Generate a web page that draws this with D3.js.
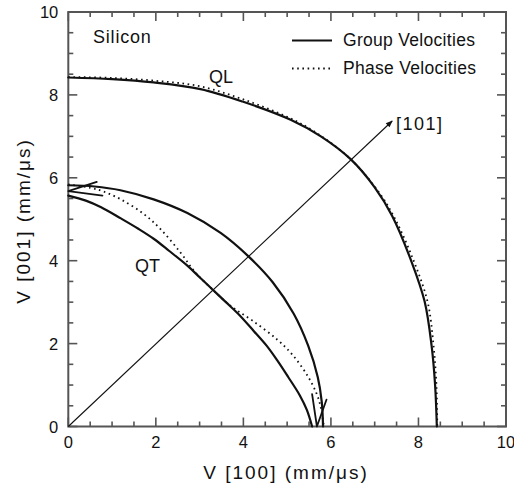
<!DOCTYPE html>
<html>
<head>
<meta charset="utf-8">
<script src="https://cdn.jsdelivr.net/npm/d3@7"></script>
<style>
  html, body { margin: 0; padding: 0; background: #fff; }
  svg { display: block; }
</style>
</head>
<body>
<svg id="chart" width="514" height="484"></svg>
<script>
// ---------------- data ----------------
// QL group velocity (solid)
const qlGroup = [
  [0, 8.42], [1.0, 8.38], [1.95, 8.30], [3.02, 8.14], [3.98, 7.84], [5.08, 7.40],
  [5.77, 7.00], [6.45, 6.45], [7.00, 5.77], [7.40, 5.08], [7.84, 3.98], [8.14, 3.02],
  [8.30, 1.95], [8.38, 1.0], [8.42, 0]
];
// QL phase velocity (dotted)
const qlPhase = [
  [0, 8.43], [1.0, 8.41], [2.0, 8.34], [3.0, 8.21], [4.0, 7.89], [5.0, 7.47],
  [5.6, 7.13], [6.45, 6.45], [7.13, 5.6], [7.47, 5.0], [7.89, 4.0], [8.21, 3.0],
  [8.34, 2.0], [8.41, 1.0], [8.43, 0]
];
// pure transverse mode (solid, outer QT)
const qtOuter = [
  [0, 5.82], [0.6, 5.79], [1.19, 5.70], [1.95, 5.48], [2.72, 5.15], [3.48, 4.67],
  [4.11, 4.11], [4.67, 3.48], [5.15, 2.72], [5.48, 1.95], [5.70, 1.19], [5.79, 0.6], [5.82, 0]
];
// quasi-transverse group velocity (solid, inner QT)
const qtInner = [
  [0, 5.57], [0.4, 5.45], [0.75, 5.29], [1.2, 5.02], [1.6, 4.77], [1.95, 4.53],
  [2.3, 4.24], [2.72, 3.88], [3.0, 3.60], [3.30, 3.30], [3.60, 3.0], [3.88, 2.72],
  [4.24, 2.3], [4.53, 1.95], [4.77, 1.6], [5.02, 1.2], [5.29, 0.75], [5.45, 0.4], [5.57, 0]
];
// quasi-transverse phase velocity (dotted)
const qtPhase = [
  [0, 5.84], [0.5, 5.76], [0.8, 5.67], [1.2, 5.48], [1.72, 5.13], [2.10, 4.77],
  [2.56, 4.20], [2.9, 3.72], [3.30, 3.30], [3.72, 2.9], [4.20, 2.56], [4.77, 2.10],
  [5.13, 1.72], [5.48, 1.2], [5.67, 0.8], [5.76, 0.5], [5.84, 0]
];
// cusps of the QT group velocity
const cuspNear001 = [[0.65, 5.90], [0, 5.68], [0.78, 5.57]];
const cuspNear100 = [[5.90, 0.65], [5.68, 0], [5.57, 0.78]];
// [101] direction
const dir101 = [[0, 0], [7.4, 7.37]];

const xMajorTicks = [0, 2, 4, 6, 8, 10];
const yMajorTicks = [0, 2, 4, 6, 8, 10];
const minorTicks = [0.5, 1, 1.5, 2.5, 3, 3.5, 4.5, 5, 5.5, 6.5, 7, 7.5, 8.5, 9, 9.5];

// ---------------- drawing ----------------
const svg = d3.select("#chart");
const x = d3.scaleLinear().domain([0, 10]).range([68.3, 506]);
const y = d3.scaleLinear().domain([0, 10]).range([426.5, 12]);
const line = d3.line().x(d => x(d[0])).y(d => y(d[1])).curve(d3.curveCatmullRom.alpha(0.5));
const straight = d3.line().x(d => x(d[0])).y(d => y(d[1]));
const FONT = "Liberation Sans, Arial, sans-serif";
const INK = "#111";
const FRAME_INK = "#555";

// frame
const frame = [[0, 0], [10, 0], [10, 10], [0, 10], [0, 0]];
svg.append("path").attr("d", straight(frame) + "Z")
  .attr("fill", "none").attr("stroke", FRAME_INK).attr("stroke-width", 2);

// inward ticks on all four sides
function tickLines(values, len) {
  const g = svg.append("g");
  const add = () => g.selectAll(null).data(values).join("line")
    .attr("stroke", FRAME_INK).attr("stroke-width", 1.6);
  add().attr("x1", d => x(d)).attr("x2", d => x(d)).attr("y1", y(0)).attr("y2", y(0) - len);
  add().attr("x1", d => x(d)).attr("x2", d => x(d)).attr("y1", y(10)).attr("y2", y(10) + len);
  add().attr("y1", d => y(d)).attr("y2", d => y(d)).attr("x1", x(0)).attr("x2", x(0) + len);
  add().attr("y1", d => y(d)).attr("y2", d => y(d)).attr("x1", x(10)).attr("x2", x(10) - len);
}
tickLines(minorTicks, 5);
tickLines(xMajorTicks, 9);

// tick labels
svg.append("g").selectAll("text").data(xMajorTicks).join("text")
  .attr("x", d => x(d)).attr("y", y(0) + 21.5).attr("text-anchor", "middle")
  .attr("font-family", FONT).attr("font-size", 16.5).attr("fill", INK).text(d => d);
svg.append("g").selectAll("text").data(yMajorTicks).join("text")
  .attr("x", x(0) - 10).attr("y", d => y(d) + 6).attr("text-anchor", "end")
  .attr("font-family", FONT).attr("font-size", 16.5).attr("fill", INK).text(d => d);

// [101] direction with arrow
svg.append("defs").append("marker").attr("id", "arr")
  .attr("viewBox", "0 0 10 10").attr("refX", 9).attr("refY", 5)
  .attr("markerWidth", 11).attr("markerHeight", 7).attr("markerUnits", "userSpaceOnUse")
  .attr("orient", "auto")
  .append("path").attr("d", "M0,1 L10,5 L0,9 Z").attr("fill", INK);
svg.append("path").attr("d", straight(dir101)).attr("fill", "none")
  .attr("stroke", INK).attr("stroke-width", 1.1).attr("marker-end", "url(#arr)");

// curves
const solid = (data, curve) => svg.append("path").attr("d", (curve || line)(data))
  .attr("fill", "none").attr("stroke", INK).attr("stroke-width", 2.2)
  .attr("stroke-linejoin", "round").attr("stroke-linecap", "round");
const dotted = data => svg.append("path").attr("d", line(data))
  .attr("fill", "none").attr("stroke", INK).attr("stroke-width", 1.8)
  .attr("stroke-dasharray", "1.6,3.6");
dotted(qlPhase);
dotted(qtPhase);
solid(qlGroup);
solid(qtOuter);
solid(qtInner);
solid(cuspNear001, straight).attr("stroke-width", 1.8);
solid(cuspNear100, straight).attr("stroke-width", 1.8);

// texts
const txt = (s, px, py, size, anchor) => svg.append("text").attr("x", px).attr("y", py)
  .attr("font-family", FONT).attr("fill", INK)
  .attr("font-size", size).attr("text-anchor", anchor || "start").text(s);
txt("Silicon", 93, 43, 18).attr("letter-spacing", 0.8);
txt("QL", 209, 83, 18);
txt("QT", 135, 272, 18);
txt("[101]", 396, 130, 18).attr("letter-spacing", 1.5);

// legend
svg.append("line").attr("x1", 292).attr("x2", 332).attr("y1", 40.5).attr("y2", 40.5)
  .attr("stroke", INK).attr("stroke-width", 2.2);
svg.append("line").attr("x1", 292).attr("x2", 332).attr("y1", 68.5).attr("y2", 68.5)
  .attr("stroke", INK).attr("stroke-width", 1.8).attr("stroke-dasharray", "1.6,3.6");
txt("Group Velocities", 343, 46, 17.5).attr("letter-spacing", 0.3);
txt("Phase Velocities", 343, 74, 17.5).attr("letter-spacing", 0.3);

// axis titles
txt("V [100]  (mm/\u03bcs)", 286, 479, 19, "middle").attr("letter-spacing", 2);
svg.append("text").attr("transform", "translate(30,221) rotate(-90)")
  .attr("font-family", FONT).attr("fill", INK)
  .attr("font-size", 19).attr("text-anchor", "middle").attr("letter-spacing", 2)
  .text("V [001]  (mm/\u03bcs)");
</script>
</body>
</html>
